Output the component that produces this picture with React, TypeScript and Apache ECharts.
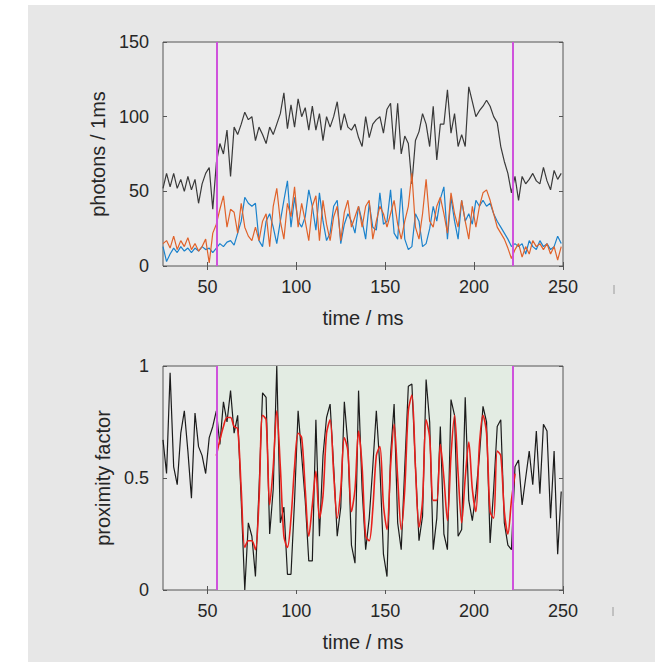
import React, { useEffect, useRef } from "react";
import * as echarts from "echarts";

// time grid (ms) of the binned traces
const T_START = 25;
const T_STEP = 2;
const SMOOTH_START = 55;

const photonsTotal = [
  52, 62, 53, 62, 52, 58, 50, 60, 51, 58,
  42, 55, 62, 66, 38, 69, 82, 75, 91, 60,
  93, 88, 95, 103, 98, 100, 84, 93, 88, 82,
  93, 88, 95, 102, 116, 92, 108, 93, 112, 100,
  106, 91, 107, 91, 102, 84, 100, 93, 100, 110,
  91, 102, 93, 91, 95, 86, 80, 100, 86, 95,
  98, 100, 89, 105, 109, 78, 109, 75, 87, 82,
  55, 84, 90, 102, 95, 80, 107, 71, 95, 95,
  118, 89, 102, 80, 88, 80, 120, 110, 100, 104,
  107, 111, 107, 100, 96, 80, 70, 62, 49, 60,
  44, 60, 55, 58, 62, 57, 55, 66, 57, 51,
  64, 58, 62,
];

const photonsBlue = [
  13, 3, 8, 12, 9, 13, 10, 12, 9, 12,
  10, 13, 11, 12, 9, 12, 15, 13, 16, 17,
  14, 22, 30, 46, 42, 40, 42, 17, 13, 30,
  35, 26, 15, 30, 44, 57, 26, 46, 30, 26,
  33, 51, 40, 24, 49, 30, 17, 22, 40, 44,
  15, 28, 35, 30, 22, 40, 30, 18, 42, 26,
  24, 49, 28, 30, 51, 22, 18, 52, 18, 11,
  13, 35, 30, 13, 15, 25, 40, 30, 45, 53,
  18, 46, 30, 18, 44, 30, 35, 28, 44, 40,
  44, 40, 42, 35, 30, 26, 22, 18, 13, 15,
  13, 15, 8, 17, 13, 11, 17, 13, 15, 11,
  13, 20, 15,
];

const photonsOrange = [
  15, 17, 12, 20, 11, 17, 13, 19, 11, 15,
  10, 13, 18, 2, 22, 28, 38, 47, 26, 38,
  36, 22, 42, 26, 20, 17, 26, 17, 30, 35,
  13, 40, 52, 30, 18, 42, 33, 53, 26, 42,
  30, 17, 40, 47, 17, 44, 28, 17, 33, 40,
  17, 36, 44, 26, 33, 40, 26, 40, 44, 18,
  30, 40, 35, 26, 35, 44, 28, 18, 30, 40,
  62, 26, 18, 35, 58, 30, 26, 40, 46, 35,
  22, 49, 35, 26, 44, 30, 18, 40, 26, 40,
  49, 51, 44, 35, 26, 22, 18, 12, 5, 11,
  15, 6, 13, 8, 17, 13, 15, 11, 15, 8,
  13, 4, 13,
];

const proximityRaw = [
  0.67, 0.52, 0.97, 0.55, 0.47, 0.7, 0.8, 0.62, 0.41, 0.79,
  0.64, 0.6, 0.52, 0.68, 0.73, 0.8, 0.65, 0.84, 0.75, 0.89,
  0.7, 0.78, 0.4, 0.0, 0.3, 0.24, 0.06, 0.45, 0.88, 0.86,
  0.25, 0.45, 1.0, 0.3, 0.37, 0.07, 0.07, 0.4, 0.8, 0.6,
  0.4, 0.13, 0.13, 0.76, 0.24, 0.6, 0.77, 0.83, 0.55, 0.24,
  0.37, 0.84, 0.65, 0.2, 0.12, 0.89, 0.45, 0.18, 0.32, 0.55,
  0.8, 0.55, 0.16, 0.06, 0.6, 0.83, 0.3, 0.18, 0.55, 0.91,
  0.92, 0.55, 0.22, 0.33, 0.94, 0.75, 0.18, 0.32, 0.73, 0.25,
  0.18, 0.85, 0.78, 0.24, 0.27, 0.86, 0.4, 0.31, 0.43, 0.6,
  0.82, 0.75, 0.21, 0.45, 0.73, 0.76, 0.3, 0.2, 0.18, 0.55,
  0.58, 0.38, 0.5, 0.62, 0.47, 0.71, 0.43, 0.74, 0.71, 0.32,
  0.62, 0.16, 0.44,
];

const proximitySmooth = [
  0.6, 0.67, 0.73, 0.77, 0.77, 0.73, 0.72, 0.45, 0.19, 0.22,
  0.22, 0.18, 0.4, 0.78, 0.76, 0.38, 0.55, 0.8, 0.55, 0.24,
  0.19, 0.32, 0.55, 0.7, 0.68, 0.45, 0.24, 0.38, 0.53, 0.32,
  0.42, 0.7, 0.76, 0.52, 0.32, 0.45, 0.68, 0.62, 0.35, 0.45,
  0.71, 0.55, 0.24, 0.22, 0.36, 0.6, 0.64, 0.38, 0.27, 0.55,
  0.74, 0.5, 0.27, 0.45, 0.8, 0.87, 0.55, 0.28, 0.4, 0.76,
  0.68, 0.4, 0.4, 0.65, 0.5, 0.31, 0.6, 0.78, 0.52, 0.3,
  0.5, 0.66, 0.45, 0.35, 0.65, 0.78, 0.7, 0.35, 0.32, 0.62,
  0.6, 0.35, 0.25, 0.4, 0.52,
];

const burstBounds = [55, 222];
const timeTicks = [50, 100, 150, 200, 250];
const timeRange = [25, 250];

const FONT = "'Liberation Sans', Arial, Helvetica, sans-serif";
const TEXT = "#262626";
const FRAME = "#555555";

function toPairs(start: number, step: number, values: number[]) {
  return values.map((v, i) => [start + i * step, v]);
}

function axesFor(gridIndex: number, yMin: number, yMax: number, yInterval: number, yName: string) {
  const tickStyle = { lineStyle: { color: FRAME, width: 1 } };
  const xs = [
    {
      type: "value",
      gridIndex,
      min: timeRange[0],
      max: timeRange[1],
      position: "bottom",
      name: "time / ms",
      nameLocation: "middle",
      nameGap: 42,
      nameTextStyle: { fontSize: 20, color: TEXT, fontFamily: FONT },
      axisLine: { show: false },
      axisTick: { show: true, inside: true, length: 4, customValues: timeTicks, ...tickStyle },
      axisLabel: { show: true, margin: 12, fontSize: 18, color: TEXT, fontFamily: FONT, customValues: timeTicks },
      splitLine: { show: false },
    },
    {
      type: "value",
      gridIndex,
      min: timeRange[0],
      max: timeRange[1],
      position: "top",
      axisLine: { show: false },
      axisTick: { show: true, inside: true, length: 4, customValues: timeTicks, ...tickStyle },
      axisLabel: { show: false },
      splitLine: { show: false },
    },
  ];
  const ys = [
    {
      type: "value",
      gridIndex,
      min: yMin,
      max: yMax,
      interval: yInterval,
      position: "left",
      name: yName,
      nameLocation: "middle",
      nameGap: 36,
      nameTextStyle: { fontSize: 20, color: TEXT, fontFamily: FONT },
      axisLine: { show: false },
      axisTick: { show: true, inside: true, length: 4, ...tickStyle },
      axisLabel: { show: true, margin: 14, fontSize: 18, color: TEXT, fontFamily: FONT },
      splitLine: { show: false },
    },
    {
      type: "value",
      gridIndex,
      min: yMin,
      max: yMax,
      interval: yInterval,
      position: "right",
      axisLine: { show: false },
      axisTick: { show: true, inside: true, length: 4, ...tickStyle },
      axisLabel: { show: false },
      splitLine: { show: false },
    },
  ];
  return { xs, ys };
}

export default function App() {
  const ref = useRef<HTMLDivElement>(null);

  useEffect(() => {
    if (!ref.current) return;
    const chart = echarts.init(ref.current, undefined, { renderer: "svg" });

    const top = axesFor(0, 0, 150, 50, "photons / 1ms");
    const bottom = axesFor(1, 0, 1, 0.5, "proximity factor");

    const magentaLines = {
      symbol: ["none", "none"],
      silent: true,
      label: { show: false },
      lineStyle: { color: "#cf52dc", width: 2, type: "solid" },
      data: burstBounds.map((b) => ({ xAxis: b })),
    };

    const lineBase = {
      type: "line",
      showSymbol: false,
      symbol: "none",
      silent: true,
      animation: false,
    };

    chart.setOption({
      animation: false,
      backgroundColor: "transparent",
      grid: [
        {
          left: 163, top: 42, width: 400, height: 224,
          show: true, backgroundColor: "#ebebeb", borderColor: FRAME, borderWidth: 1,
        },
        {
          left: 163, top: 366, width: 400, height: 224,
          show: true, backgroundColor: "#ebebeb", borderColor: FRAME, borderWidth: 1,
        },
      ],
      xAxis: [...top.xs, ...bottom.xs],
      yAxis: [...top.ys, ...bottom.ys],
      graphic: [
        { type: "line", shape: { x1: 614, y1: 285, x2: 614, y2: 294 }, style: { stroke: "#9a9a9a", lineWidth: 1 } },
        { type: "line", shape: { x1: 613, y1: 607, x2: 613, y2: 616 }, style: { stroke: "#9a9a9a", lineWidth: 1 } },
      ],
      series: [
        {
          ...lineBase,
          name: "total",
          xAxisIndex: 0, yAxisIndex: 0,
          data: toPairs(T_START, T_STEP, photonsTotal),
          lineStyle: { color: "#3a3a3a", width: 1.2 },
          z: 2,
        },
        {
          ...lineBase,
          name: "donor",
          xAxisIndex: 0, yAxisIndex: 0,
          data: toPairs(T_START, T_STEP, photonsBlue),
          lineStyle: { color: "#1b82cc", width: 1.2 },
          z: 3,
        },
        {
          ...lineBase,
          name: "acceptor",
          xAxisIndex: 0, yAxisIndex: 0,
          data: toPairs(T_START, T_STEP, photonsOrange),
          lineStyle: { color: "#e0622a", width: 1.2 },
          z: 4,
          markLine: magentaLines,
        },
        {
          ...lineBase,
          name: "proximity",
          xAxisIndex: 2, yAxisIndex: 2,
          data: toPairs(T_START, T_STEP, proximityRaw),
          lineStyle: { color: "#1c1c1c", width: 1.2 },
          z: 2,
          markArea: {
            silent: true,
            itemStyle: { color: "#e3ece3" },
            data: [[{ xAxis: burstBounds[0] }, { xAxis: burstBounds[1] }]],
          },
        },
        {
          ...lineBase,
          name: "smoothed",
          xAxisIndex: 2, yAxisIndex: 2,
          data: toPairs(SMOOTH_START, T_STEP, proximitySmooth),
          smooth: 0.3,
          lineStyle: { color: "#e8201c", width: 1.6 },
          z: 3,
          markLine: magentaLines,
        },
      ],
    });

    return () => chart.dispose();
  }, []);

  return (
    <div style={{ position: "fixed", left: 0, top: 0, width: 661, height: 662, background: "#ffffff" }}>
      <div style={{ position: "absolute", left: 28, top: 5, width: 627, height: 657, background: "#e7e7e7" }} />
      <div ref={ref} style={{ position: "absolute", left: 0, top: 0, width: 661, height: 662 }} />
    </div>
  );
}
